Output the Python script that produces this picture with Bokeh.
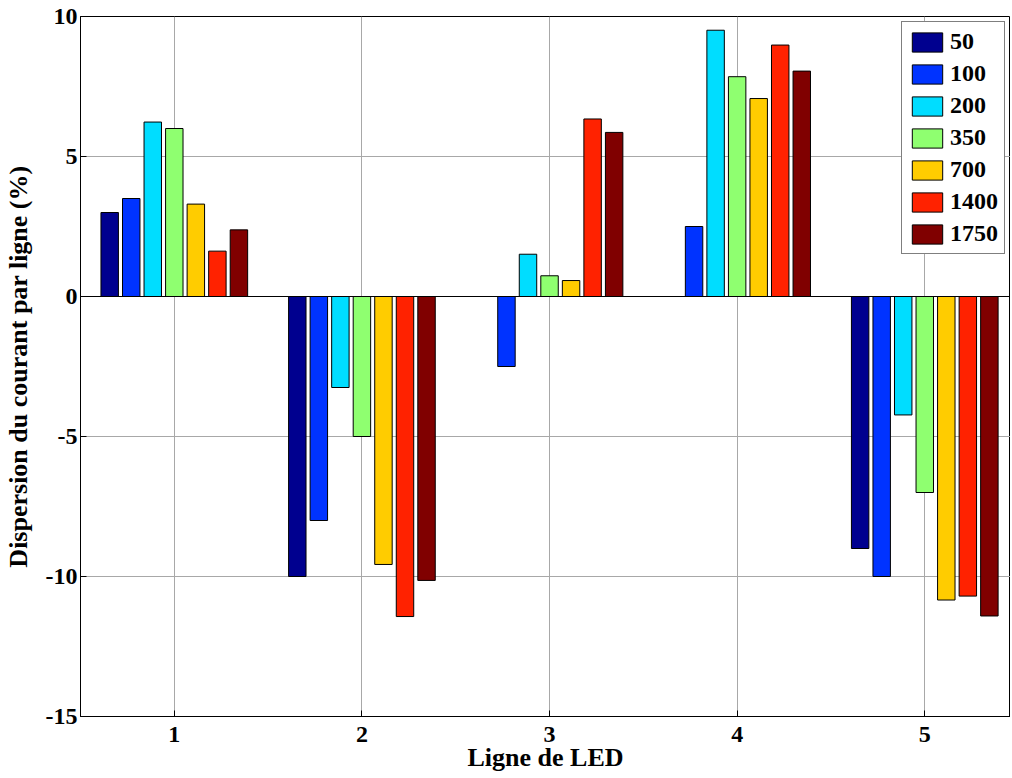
from bokeh.plotting import figure
from bokeh.models import ColumnDataSource, FixedTicker, Span, Legend, LegendItem
from bokeh.transform import dodge
from bokeh.embed import file_html
from bokeh.resources import INLINE

# ---- data ----
lines = [1, 2, 3, 4, 5]
series_names = ["50", "100", "200", "350", "700", "1400", "1750"]
s50 = [3.0, -10.0, 0.0, 0.0, -9.0]
s100 = [3.5, -8.0, -2.5, 2.5, -10.0]
s200 = [6.23, -3.25, 1.51, 9.51, -4.23]
s350 = [6.0, -5.0, 0.74, 7.85, -7.0]
s700 = [3.3, -9.57, 0.57, 7.07, -10.84]
s1400 = [1.62, -11.43, 6.34, 8.98, -10.7]
s1750 = [2.38, -10.14, 5.86, 8.05, -11.41]
colors = ["#00008F", "#0033FF", "#00DDFF", "#8FFF70", "#FFCC00", "#FF2200", "#800000"]
y_ticks = [-15, -10, -5, 0, 5, 10]
y_tick_labels = ["-15", "-10", "-5", "0", "5", "10"]

series = [s50, s100, s200, s350, s700, s1400, s1750]
data = {"x": lines}
for name, vals in zip(series_names, series):
    data["s" + name] = vals
source = ColumnDataSource(data)

FONT = "Liberation Serif"

p = figure(width=1010, height=776, x_range=(0.5, 5.457), y_range=(-15, 10),
           output_backend="svg", toolbar_location=None,
           min_border_left=80, min_border_right=0, min_border_top=16, min_border_bottom=60)
p.background_fill_color = "white"
p.border_fill_color = "white"
p.outline_line_color = "black"
p.outline_line_width = 1

spacing = 0.1148
bar_w = 0.093
items = []
for i, (name, col) in enumerate(zip(series_names, colors)):
    r = p.vbar(x=dodge("x", (i - 3) * spacing, range=p.x_range), top="s" + name, bottom=0,
               width=bar_w, source=source, fill_color=col, line_color="black", line_width=1)
    items.append(LegendItem(label=name, renderers=[r]))

p.add_layout(Span(location=0, dimension="width", line_color="black", line_width=1))

# axes
p.xaxis.ticker = FixedTicker(ticks=lines)
p.yaxis.ticker = FixedTicker(ticks=y_ticks)
p.yaxis.major_label_overrides = {t: l for t, l in zip(y_ticks, y_tick_labels)}
for ax in (p.xaxis[0], p.yaxis[0]):
    ax.major_label_text_font = FONT
    ax.major_label_text_font_style = "bold"
    ax.major_label_text_font_size = "24px"
    ax.major_label_text_color = "black"
    ax.axis_label_text_font = FONT
    ax.axis_label_text_font_style = "bold"
    ax.axis_label_text_font_size = "26px"
    ax.axis_label_text_color = "black"
    ax.major_tick_in = 6
    ax.major_tick_out = 0
    ax.minor_tick_in = 0
    ax.minor_tick_out = 0
    ax.axis_line_color = "black"
    ax.major_tick_line_color = "black"
p.xaxis.axis_label = "Ligne de LED"
p.yaxis.axis_label = "Dispersion du courant par ligne (%)"
p.xaxis.major_label_standoff = 10
p.xaxis.axis_label_standoff = -2
p.yaxis.major_label_standoff = 3
p.yaxis.axis_label_standoff = 10

p.xgrid.ticker = FixedTicker(ticks=lines)
p.ygrid.ticker = FixedTicker(ticks=y_ticks)
p.grid.grid_line_color = "#a8a8a8"
p.grid.grid_line_width = 1

legend = Legend(items=items, location="top_right")
legend.label_text_font = FONT
legend.label_text_font_style = "bold"
legend.label_text_font_size = "24px"
legend.label_text_color = "black"
legend.glyph_width = 38
legend.glyph_height = 24
legend.label_height = 24
legend.label_standoff = 4
legend.spacing = 5
legend.padding = 6
legend.margin = 5
legend.border_line_color = "black"
legend.border_line_width = 1
legend.background_fill_color = "white"
legend.background_fill_alpha = 1
p.add_layout(legend)

open("out.html", "w").write(file_html(p, INLINE))
